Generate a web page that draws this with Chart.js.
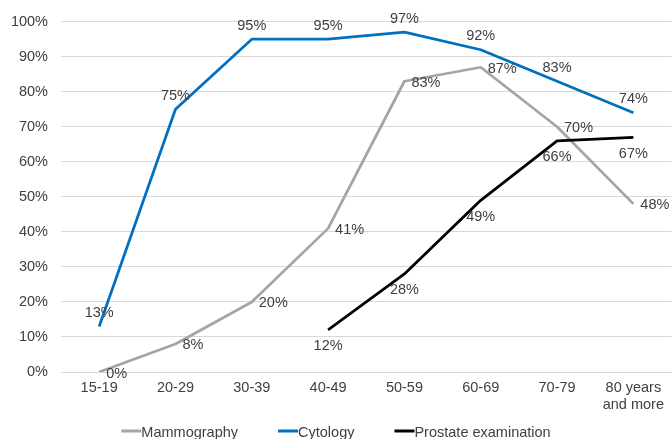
<!DOCTYPE html>
<html>
<head>
<meta charset="utf-8">
<script src="https://cdn.jsdelivr.net/npm/chart.js@4"></script>
<style>
  html, body { margin: 0; padding: 0; background: #ffffff; }
  #wrap { width: 672px; height: 439px; position: relative; }
</style>
</head>
<body>
<div id="wrap"><canvas id="chart"></canvas></div>
<script>
// Screening participation by age group (%)
const ageGroups = ['15-19', '20-29', '30-39', '40-49', '50-59', '60-69', '70-79', ['80 years', 'and more']];
const mammography = [0, 8, 20, 41, 83, 87, 70, 48];
const cytology = [13, 75, 95, 95, 97, 92, 83, 74];
const prostateExam = [null, null, null, 12, 28, 49, 66, 67];
const seriesNames = ['Mammography', 'Cytology', 'Prostate examination'];

const FONT = "'Liberation Sans', Arial, sans-serif";
const FONT_SIZE = 14.5;
const TEXT = '#404040';

// Value labels next to each point; placement set per dataset
const pointLabels = {
  id: 'pointLabels',
  afterDatasetsDraw(chart) {
    const ctx = chart.ctx;
    ctx.save();
    ctx.font = FONT_SIZE + 'px ' + FONT;
    ctx.fillStyle = TEXT;
    ctx.textBaseline = 'middle';
    chart.data.datasets.forEach((ds, i) => {
      const meta = chart.getDatasetMeta(i);
      meta.data.forEach((pt, j) => {
        const v = ds.data[j];
        if (v === null || v === undefined) return;
        let x = pt.x, y = pt.y;
        if (ds.labelPlacement === 'above') {
          ctx.textAlign = 'center'; y -= 13.5;
        } else if (ds.labelPlacement === 'below') {
          ctx.textAlign = 'center'; y += 16.5;
        } else {
          ctx.textAlign = 'left'; x += 7; y += 1.5;
        }
        ctx.fillText(v + '%', x, y);
      });
    });
    ctx.restore();
  }
};

// Legend row under the axis: short line swatch followed directly by the name
const bottomLegend = {
  id: 'bottomLegend',
  afterDraw(chart) {
    const ctx = chart.ctx;
    ctx.save();
    ctx.font = FONT_SIZE + 'px ' + FONT;
    const items = chart.data.datasets.map(ds => ({
      text: ds.label, color: ds.borderColor, w: ctx.measureText(ds.label).width
    }));
    const SWATCH = 20, GAP = 40;
    const total = items.reduce((s, it) => s + SWATCH + it.w, 0) + GAP * (items.length - 1);
    let x = (chart.width - total) / 2;
    items.forEach(it => {
      ctx.strokeStyle = it.color;
      ctx.lineWidth = 3;
      ctx.beginPath();
      ctx.moveTo(x, 431);
      ctx.lineTo(x + SWATCH, 431);
      ctx.stroke();
      ctx.fillStyle = TEXT;
      ctx.textAlign = 'left';
      ctx.textBaseline = 'middle';
      ctx.fillText(it.text, x + SWATCH, 433);
      x += SWATCH + it.w + GAP;
    });
    ctx.restore();
  }
};

new Chart(document.getElementById('chart'), {
  type: 'line',
  data: {
    labels: ageGroups,
    datasets: [
      { label: seriesNames[0], data: mammography, borderColor: '#a5a5a5', backgroundColor: '#a5a5a5',
        borderWidth: 2.75, pointRadius: 0, order: 3, labelPlacement: 'right' },
      { label: seriesNames[1], data: cytology, borderColor: '#0070c0', backgroundColor: '#0070c0',
        borderWidth: 2.75, pointRadius: 0, order: 2, labelPlacement: 'above' },
      { label: seriesNames[2], data: prostateExam, borderColor: '#000000', backgroundColor: '#000000',
        borderWidth: 2.75, pointRadius: 0, order: 1, labelPlacement: 'below' }
    ]
  },
  options: {
    responsive: true,
    maintainAspectRatio: false,
    animation: false,
    layout: { padding: { top: 19, right: 0, bottom: 22, left: 0 } },
    elements: { line: { tension: 0, borderJoinStyle: 'round' } },
    plugins: { legend: { display: false }, tooltip: { enabled: false } },
    scales: {
      x: {
        type: 'category',
        offset: true,
        grid: { display: false, drawTicks: false },
        border: { display: true, color: '#d9d9d9', width: 1 },
        ticks: { color: TEXT, font: { family: FONT, size: FONT_SIZE, lineHeight: 1.17 }, padding: 8, maxRotation: 0, autoSkip: false },
        afterFit(scale) { scale.height = 45; }
      },
      y: {
        min: 0, max: 100,
        grid: { color: '#d9d9d9', lineWidth: 1, drawTicks: false },
        border: { display: false },
        ticks: { stepSize: 10, color: TEXT, font: { family: FONT, size: FONT_SIZE }, padding: 13,
                 callback: v => v + '%' },
        afterFit(scale) { scale.width = 61; }
      }
    }
  },
  plugins: [pointLabels, bottomLegend]
});
</script>
</body>
</html>
